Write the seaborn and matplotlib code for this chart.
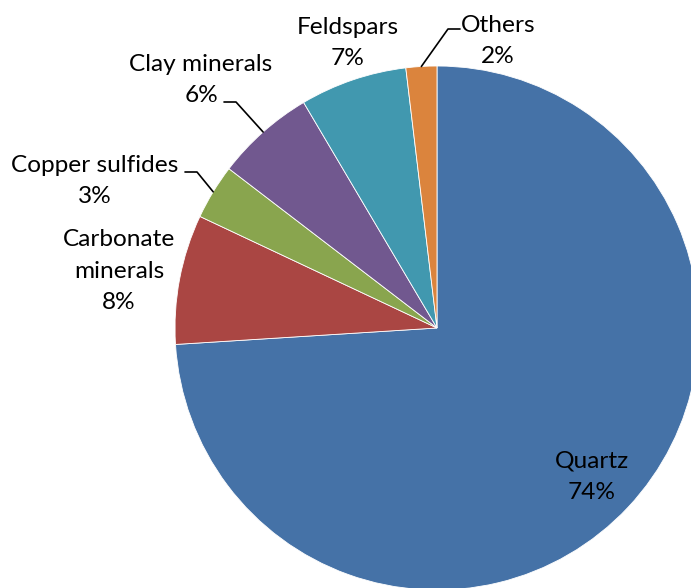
import numpy as np
import seaborn as sns
import matplotlib.pyplot as plt

# mineral shares (percent)
minerals = ['Quartz', 'Carbonate\nminerals', 'Copper sulfides', 'Clay minerals', 'Feldspars', 'Others']
shares = [74.0, 8.0, 3.4, 6.1, 6.6, 1.9]
colors = ['#4572A7', '#AA4643', '#89A54E', '#71588F', '#4198AF', '#DB843D']

sns.set_theme(style='white')
plt.rcParams['font.family'] = ['Lato', 'DejaVu Sans']

# pie centre / radius in figure pixels
cx, cy, rad = 437, 328, 262
W, H = 691, 588

def px(x, y):
    # pixel coords -> data coords (pie centre at 0,0 with radius 1)
    return (x - cx) / rad, (cy - y) / rad

fig = plt.figure(figsize=(W / 100, H / 100), dpi=100)
ax = fig.add_axes([0, 0, 1, 1])

wedges, _ = ax.pie(shares, colors=sns.color_palette(colors), startangle=90, counterclock=False,
                   radius=1, center=(0, 0), frame=True,
                   wedgeprops=dict(edgecolor='white', linewidth=0.6))
ax.set_xlim(-cx / rad, (W - cx) / rad)
ax.set_ylim(-(H - cy) / rad, cy / rad)
ax.set_aspect('equal')
ax.axis('off')

# label centres (pixels) and optional leader elbows
label_pos = [(592, 477), (119, 271), (95, 181), (201, 80), (348, 43), (498, 41)]
leaders = {2: [(197, 172), (185, 172)],
           3: [(236, 102), (224, 102)],
           5: [(448, 29), (460, 29)]}

for i, (name, val) in enumerate(zip(minerals, shares)):
    tx, ty = px(*label_pos[i])
    ax.text(tx, ty, f'{name}\n{val:.0f}%', ha='center', va='center', fontsize=17.6,
            color='black', linespacing=1.63)
    if i in leaders:
        w = wedges[i]
        mid = np.deg2rad((w.theta1 + w.theta2) / 2)
        pts = [(np.cos(mid), np.sin(mid))] + [px(*p) for p in leaders[i]]
        xs, ys = zip(*pts)
        ax.plot(xs, ys, color='black', linewidth=1.2)

fig.savefig('out.png', dpi=100)
